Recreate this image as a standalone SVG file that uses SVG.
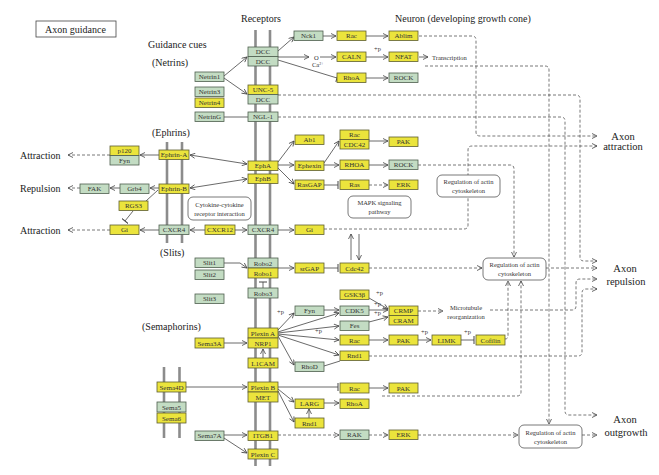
<svg xmlns="http://www.w3.org/2000/svg" width="659" height="475" viewBox="0 0 659 475">
<style>
.y{fill:#ebe43c;stroke:#5e5e30;stroke-width:0.8}
.g{fill:#c3dcc3;stroke:#4e5e4e;stroke-width:0.8}
.t{font-family:"Liberation Serif","DejaVu Serif",serif;font-size:7px;fill:#333;text-anchor:middle}
.s{font-family:"Liberation Serif","DejaVu Serif",serif;font-size:10px;fill:#222}
.b{font-family:"Liberation Serif","DejaVu Serif",serif;font-size:10.5px;fill:#222;text-anchor:middle}
.p{font-family:"Liberation Serif","DejaVu Serif",serif;font-size:6.5px;fill:#333}
.bar{stroke:#8c8c8c;stroke-width:2.6}
.c{stroke:#444;stroke-width:0.8;fill:none}
.d{stroke:#555;stroke-width:0.8;stroke-dasharray:3 2;fill:none}
.r{fill:#fff;stroke:#555;stroke-width:0.8}
</style>
<defs>
<marker id="a" viewBox="0 0 6 6" refX="5.5" refY="3" markerWidth="6" markerHeight="6" markerUnits="userSpaceOnUse" orient="auto-start-reverse"><path d="M0.5,0.5 L5.5,3 L0.5,5.5" fill="none" stroke="#444" stroke-width="0.8"/></marker>
<marker id="i" viewBox="0 0 2 8" refX="1" refY="4" markerWidth="2" markerHeight="8" markerUnits="userSpaceOnUse" orient="auto"><path d="M1,0 V8" stroke="#444" stroke-width="1"/></marker>
</defs>
<rect width="659" height="475" fill="#fff"/>

<g id="labels">
<rect x="36" y="21" width="80" height="16" fill="#fff" stroke="#444" stroke-width="0.8"/>
<text class="s" x="45" y="32.5">Axon guidance</text>
<text class="s" x="148" y="48">Guidance cues</text>
<text class="s" x="152" y="66">(Netrins)</text>
<text class="s" x="241" y="22">Receptors</text>
<text class="s" x="395" y="22">Neuron (developing growth cone)</text>
<text class="s" x="152" y="136">(Ephrins)</text>
<text class="s" x="160" y="256">(Slits)</text>
<text class="s" x="142" y="330">(Semaphorins)</text>
<text class="s" x="20" y="158.5">Attraction</text>
<text class="s" x="20" y="191.5">Repulsion</text>
<text class="s" x="20" y="233.5">Attraction</text>
<text class="b" x="623" y="139.5">Axon</text>
<text class="b" x="623" y="149.5">attraction</text>
<text class="b" x="625" y="272">Axon</text>
<text class="b" x="626" y="285">repulsion</text>
<text class="b" x="625" y="423">Axon</text>
<text class="b" x="626" y="436">outgrowth</text>
<text class="p" x="432" y="59.5">Transcription</text>
<text class="p" x="466" y="309.5" text-anchor="middle">Microtubule</text>
<text class="p" x="466" y="318.5" text-anchor="middle">reorganization</text>
<text class="p" x="314" y="60">O</text>
<text class="p" x="312" y="67" font-size="5.5">Ca<tspan font-size="4" dy="-2">2+</tspan></text>
<text class="p" x="374" y="51">+p</text>
<text class="p" x="277" y="314">+p</text>
<text class="p" x="376" y="295">+p</text>
<text class="p" x="374" y="306">+p</text>
<text class="p" x="374" y="315">+p</text>
<text class="p" x="315" y="333">+p</text>
<text class="p" x="421" y="334">+p</text>
<text class="p" x="464" y="334">+p</text>
</g>

<g id="membranes">
<line class="bar" x1="255.5" y1="30" x2="255.5" y2="466"/>
<line class="bar" x1="270" y1="30" x2="270" y2="466"/>
<line class="bar" x1="167" y1="142" x2="167" y2="243"/>
<line class="bar" x1="182" y1="142" x2="182" y2="243"/>
<line class="bar" x1="164" y1="367" x2="164" y2="438"/>
<line class="bar" x1="179.5" y1="367" x2="179.5" y2="438"/>
</g>

<g id="connectors">
<path class="d" d="M419,36 H472 Q476,36 476,40 V132 Q476,136 480,136 H597" marker-end="url(#a)"/>
<path class="d" d="M425,66 H545 Q549,66 549,70 V424" marker-end="url(#a)"/>
<path class="d" d="M278,95 H576 Q580,95 580,99 V257 Q580,261 584,261 H597" marker-end="url(#a)"/>
<path class="d" d="M278,117 H561 Q565,117 565,121 V411 Q565,415 569,415 H597" marker-end="url(#a)"/>
<path class="d" d="M418,165 H510 Q514,165 514,169 V257" marker-end="url(#a)"/>
<path class="d" d="M324,229 H464 Q468,229 468,225 V150 Q468,146 472,146 H597" marker-end="url(#a)"/>
<path class="d" d="M369,185 H388" marker-end="url(#a)"/>
<path class="d" d="M369,268 H482" marker-end="url(#a)"/>
<path class="d" d="M546,268 H597" marker-end="url(#a)"/>
<path class="d" d="M418,311 H443" marker-end="url(#a)"/>
<path class="d" d="M490,310 H572 Q576,310 576,306 V283 Q576,279 580,279 H597" marker-end="url(#a)"/>
<path class="d" d="M369,356 H578 Q582,356 582,352 V293 Q582,289 586,289 H597" marker-end="url(#a)"/>
<path class="d" d="M382,396 H517 Q521,396 521,392 V281" marker-end="url(#a)"/>
<path class="d" d="M505,339 Q508,339 508,336 V281" marker-end="url(#a)"/>
<path class="d" d="M278,435 H339" marker-end="url(#a)"/>
<path class="d" d="M369,435 H388" marker-end="url(#a)"/>
<path class="d" d="M418,435 H518" marker-end="url(#a)"/>
<path class="d" d="M582,435 H597" marker-end="url(#a)"/>
<path class="d" d="M110,155 H68" marker-end="url(#a)"/>
<path class="d" d="M80,188 H68" marker-end="url(#a)"/>
<path class="d" d="M110,230 H68" marker-end="url(#a)"/>

<path class="c" d="M224,76 L247,57" marker-end="url(#a)"/>
<path class="c" d="M224,78 L247,94" marker-end="url(#a)"/>
<path class="c" d="M224,117 H248"/>
<path class="c" d="M278,51 L294,37" marker-end="url(#a)"/>
<path class="c" d="M278,57 H309" marker-end="url(#a)"/>
<path class="c" d="M320,57 H336" marker-end="url(#a)"/>
<path class="c" d="M278,60 L337,78" marker-end="url(#i)"/>
<path class="c" d="M323,36 H336" marker-end="url(#a)"/>
<path class="c" d="M366,36 H388" marker-end="url(#a)"/>
<path class="c" d="M366,57 H388" marker-end="url(#a)"/>
<path class="c" d="M366,78 H388" marker-end="url(#a)"/>
<path class="c" d="M419,57 H428" marker-end="url(#a)"/>
<path class="c" d="M190,155 L247,164" marker-start="url(#a)" marker-end="url(#a)"/>
<path class="c" d="M190,188 L247,179" marker-start="url(#a)" marker-end="url(#a)"/>
<path class="c" d="M159,155 H140" marker-end="url(#a)"/>
<path class="c" d="M159,188 H150" marker-end="url(#a)"/>
<path class="c" d="M120,188 H110" marker-end="url(#a)"/>
<path class="c" d="M158,190 L146,201"/>
<path class="c" d="M133,211 L125,221" marker-end="url(#i)"/>
<path class="c" d="M159,230 H140" marker-end="url(#a)"/>
<path class="c" d="M205,230 H190" marker-end="url(#a)"/>
<path class="c" d="M235,230 H247" marker-end="url(#a)"/>
<path class="c" d="M278,230 H294" marker-end="url(#a)"/>
<path class="c" d="M278,162 L294,141" marker-end="url(#a)"/>
<path class="c" d="M278,165 H294" marker-end="url(#a)"/>
<path class="c" d="M278,168 L294,184" marker-end="url(#a)"/>
<path class="c" d="M324,163 L339,141" marker-end="url(#a)"/>
<path class="c" d="M369,141 H388" marker-end="url(#a)"/>
<path class="c" d="M324,165 H339" marker-end="url(#a)"/>
<path class="c" d="M369,165 H388" marker-end="url(#a)"/>
<path class="c" d="M324,185 H338" marker-end="url(#i)"/>
<path class="c" d="M351,260 V234" marker-end="url(#a)"/>
<path class="c" d="M359,234 V260" marker-end="url(#a)"/>
<path class="c" d="M224,263 H240 L247,268" marker-end="url(#a)"/>
<path class="c" d="M278,268 H294" marker-end="url(#a)"/>
<path class="c" d="M324,268 H338" marker-end="url(#i)"/>
<path class="c" d="M263,288 V282" marker-end="url(#i)"/>
<path class="c" d="M224,343 H247" marker-end="url(#a)"/>
<path class="c" d="M263,358 V349" marker-end="url(#a)"/>
<path class="c" d="M278,330 L294,313" marker-end="url(#a)"/>
<path class="c" d="M278,332 L339,313" marker-end="url(#a)"/>
<path class="c" d="M278,333 L339,326" marker-end="url(#a)"/>
<path class="c" d="M278,334 L339,340" marker-end="url(#a)"/>
<path class="c" d="M278,335 L339,355" marker-end="url(#a)"/>
<path class="c" d="M278,336 L294,365" marker-end="url(#a)"/>
<path class="c" d="M324,366 L340,361"/>
<path class="c" d="M324,310 H339" marker-end="url(#a)"/>
<path class="c" d="M369,298 L388,309" marker-end="url(#a)"/>
<path class="c" d="M369,310 H388" marker-end="url(#a)"/>
<path class="c" d="M369,322 L388,317" marker-end="url(#a)"/>
<path class="c" d="M369,340 H388" marker-end="url(#a)"/>
<path class="c" d="M418,340 H431" marker-end="url(#a)"/>
<path class="c" d="M461,340 H474" marker-end="url(#i)"/>
<path class="c" d="M186,387 H247" marker-end="url(#a)"/>
<path class="c" d="M278,387 H338" marker-end="url(#i)"/>
<path class="c" d="M369,388 H388" marker-end="url(#a)"/>
<path class="c" d="M278,389 L294,402" marker-end="url(#a)"/>
<path class="c" d="M278,391 L294,422" marker-end="url(#a)"/>
<path class="c" d="M309,418 V409" marker-end="url(#a)"/>
<path class="c" d="M324,403 H339" marker-end="url(#a)"/>
<path class="c" d="M224,435 H247" marker-end="url(#a)"/>
<path class="c" d="M224,438 L247,453" marker-end="url(#a)"/>
</g>

<g id="boxes">
<g id="cytokine"><rect class="r" x="188" y="197" width="63" height="23" rx="5"/><text class="p" x="219.5" y="206.5" text-anchor="middle">Cytokine-cytokine</text><text class="p" x="219.5" y="215.5" text-anchor="middle">receptor interaction</text></g>
<g id="mapk"><rect class="r" x="348" y="196" width="63" height="22" rx="5"/><text class="p" x="379.5" y="205" text-anchor="middle">MAPK signaling</text><text class="p" x="379.5" y="214" text-anchor="middle">pathway</text></g>
<g id="actin1"><rect class="r" x="437" y="175" width="63" height="22" rx="5"/><text class="p" x="468.5" y="184" text-anchor="middle">Regulation of actin</text><text class="p" x="468.5" y="193" text-anchor="middle">cytoskeleton</text></g>
<g id="actin2"><rect class="r" x="483" y="258" width="63" height="22" rx="5"/><text class="p" x="514.5" y="267" text-anchor="middle">Regulation of actin</text><text class="p" x="514.5" y="276" text-anchor="middle">cytoskeleton</text></g>
<g id="actin3"><rect class="r" x="519" y="425" width="63" height="23" rx="5"/><text class="p" x="550.5" y="434.5" text-anchor="middle">Regulation of actin</text><text class="p" x="550.5" y="443.5" text-anchor="middle">cytoskeleton</text></g>
</g>

<g id="nodes">
<g id="netrin1"><rect class="g" x="195" y="72" width="29" height="9.5"/><text class="t" x="209.5" y="79.2">Netrin1</text></g>
<g id="netrin3"><rect class="g" x="195" y="87" width="29" height="9.5"/><text class="t" x="209.5" y="94.2">Netrin3</text></g>
<g id="netrin4"><rect class="y" x="195" y="98" width="29" height="9.5"/><text class="t" x="209.5" y="105.2">Netrin4</text></g>
<g id="netring"><rect class="g" x="195" y="112" width="29" height="9.5"/><text class="t" x="209.5" y="119.2">NetrinG</text></g>
<g id="dcc1"><rect class="g" x="248" y="47" width="30" height="9.5"/><text class="t" x="263" y="54.2">DCC</text></g>
<g id="dcc2"><rect class="g" x="248" y="56.5" width="30" height="9.5"/><text class="t" x="263" y="63.7">DCC</text></g>
<g id="unc5"><rect class="y" x="248" y="85" width="30" height="9.5"/><text class="t" x="263" y="92.2">UNC-5</text></g>
<g id="dcc3"><rect class="g" x="248" y="94.5" width="30" height="9.5"/><text class="t" x="263" y="101.7">DCC</text></g>
<g id="ngl1"><rect class="g" x="248" y="112" width="30" height="9.5"/><text class="t" x="263" y="119.2">NGL-1</text></g>
<g id="nck1"><rect class="g" x="294" y="31" width="29" height="9.5"/><text class="t" x="308.5" y="38.2">Nck1</text></g>
<g id="rac1"><rect class="y" x="337" y="31" width="29" height="9.5"/><text class="t" x="351.5" y="38.2">Rac</text></g>
<g id="ablim"><rect class="y" x="389" y="31" width="29" height="9.5"/><text class="t" x="403.5" y="38.2">Ablim</text></g>
<g id="caln"><rect class="y" x="337" y="52" width="29" height="9.5"/><text class="t" x="351.5" y="59.2">CALN</text></g>
<g id="nfat"><rect class="y" x="389" y="52" width="29" height="9.5"/><text class="t" x="403.5" y="59.2">NFAT</text></g>
<g id="rhoa1"><rect class="y" x="337" y="73" width="29" height="9.5"/><text class="t" x="351.5" y="80.2">RhoA</text></g>
<g id="rock1"><rect class="g" x="389" y="73" width="29" height="9.5"/><text class="t" x="403.5" y="80.2">ROCK</text></g>

<g id="ephrinA"><rect class="y" x="159" y="150" width="30" height="9.5"/><text class="t" x="174" y="157.2">Ephrin-A</text></g>
<g id="ephrinB"><rect class="y" x="159" y="184" width="30" height="9.5"/><text class="t" x="174" y="191.2">Ephrin-B</text></g>
<g id="cxcr4a"><rect class="g" x="159" y="225" width="30" height="9.5"/><text class="t" x="174" y="232.2">CXCR4</text></g>
<g id="p120"><rect class="y" x="110" y="146" width="29" height="9.5"/><text class="t" x="124.5" y="153.2">p120</text></g>
<g id="fyn1"><rect class="g" x="110" y="155.5" width="29" height="9.5"/><text class="t" x="124.5" y="162.7">Fyn</text></g>
<g id="fak"><rect class="g" x="80" y="184" width="29" height="9.5"/><text class="t" x="94.5" y="191.2">FAK</text></g>
<g id="grb4"><rect class="g" x="120" y="184" width="29" height="9.5"/><text class="t" x="134.5" y="191.2">Grb4</text></g>
<g id="rgs3"><rect class="y" x="119" y="201" width="29" height="9.5"/><text class="t" x="133.5" y="208.2">RGS3</text></g>
<g id="gi1"><rect class="y" x="110" y="225" width="29" height="9.5"/><text class="t" x="124.5" y="232.2">Gi</text></g>
<g id="cxcr12"><rect class="y" x="205" y="225" width="30" height="9.5"/><text class="t" x="220" y="232.2">CXCR12</text></g>
<g id="epha"><rect class="y" x="248" y="161" width="30" height="9.5"/><text class="t" x="263" y="168.2">EphA</text></g>
<g id="ephb"><rect class="y" x="248" y="174" width="30" height="9.5"/><text class="t" x="263" y="181.2">EphB</text></g>
<g id="cxcr4b"><rect class="g" x="248" y="225" width="30" height="9.5"/><text class="t" x="263" y="232.2">CXCR4</text></g>
<g id="ab1"><rect class="y" x="295" y="135" width="29" height="9.5"/><text class="t" x="309.5" y="142.2">Ab1</text></g>
<g id="ephexin"><rect class="y" x="295" y="161" width="29" height="9.5"/><text class="t" x="309.5" y="168.2">Ephexin</text></g>
<g id="rasgap"><rect class="y" x="295" y="180" width="29" height="9.5"/><text class="t" x="309.5" y="187.2">RasGAP</text></g>
<g id="gi2"><rect class="y" x="295" y="225" width="29" height="9.5"/><text class="t" x="309.5" y="232.2">Gi</text></g>
<g id="rac2"><rect class="y" x="340" y="130" width="29" height="9.5"/><text class="t" x="354.5" y="137.2">Rac</text></g>
<g id="cdc42a"><rect class="y" x="340" y="139.5" width="29" height="9.5"/><text class="t" x="354.5" y="146.7">CDC42</text></g>
<g id="pak1"><rect class="y" x="389" y="137" width="29" height="9.5"/><text class="t" x="403.5" y="144.2">PAK</text></g>
<g id="rhoa2"><rect class="y" x="340" y="160" width="29" height="9.5"/><text class="t" x="354.5" y="167.2">RHOA</text></g>
<g id="rock2"><rect class="g" x="389" y="160" width="29" height="9.5"/><text class="t" x="403.5" y="167.2">ROCK</text></g>
<g id="ras"><rect class="y" x="340" y="180" width="29" height="9.5"/><text class="t" x="354.5" y="187.2">Ras</text></g>
<g id="erk1"><rect class="y" x="389" y="180" width="29" height="9.5"/><text class="t" x="403.5" y="187.2">ERK</text></g>

<g id="slit1"><rect class="g" x="195" y="258" width="29" height="9.5"/><text class="t" x="209.5" y="265.2">Slit1</text></g>
<g id="slit2"><rect class="g" x="195" y="270" width="29" height="9.5"/><text class="t" x="209.5" y="277.2">Slit2</text></g>
<g id="slit3"><rect class="g" x="195" y="294" width="29" height="9.5"/><text class="t" x="209.5" y="301.2">Slit3</text></g>
<g id="robo2"><rect class="g" x="248" y="258" width="30" height="10"/><text class="t" x="263" y="265.5">Robo2</text></g>
<g id="robo1"><rect class="y" x="248" y="268" width="30" height="10"/><text class="t" x="263" y="275.5">Robo1</text></g>
<g id="robo3"><rect class="g" x="248" y="288" width="30" height="10"/><text class="t" x="263" y="295.5">Robo3</text></g>
<g id="srgap"><rect class="y" x="295" y="263" width="29" height="10"/><text class="t" x="309.5" y="270.5">srGAP</text></g>
<g id="cdc42b"><rect class="y" x="340" y="263" width="29" height="10"/><text class="t" x="354.5" y="270.5">Cdc42</text></g>

<g id="fyn2"><rect class="g" x="295" y="306" width="29" height="9.5"/><text class="t" x="309.5" y="313.2">Fyn</text></g>
<g id="gsk3b"><rect class="y" x="340" y="290" width="29" height="9.5"/><text class="t" x="354.5" y="297.2">GSK3β</text></g>
<g id="cdk5"><rect class="g" x="340" y="306" width="29" height="9.5"/><text class="t" x="354.5" y="313.2">CDK5</text></g>
<g id="fes"><rect class="g" x="340" y="321" width="29" height="9.5"/><text class="t" x="354.5" y="328.2">Fes</text></g>
<g id="crmp"><rect class="y" x="389" y="306" width="29" height="9.5"/><text class="t" x="403.5" y="313.2">CRMP</text></g>
<g id="cram"><rect class="y" x="389" y="315.5" width="29" height="9.5"/><text class="t" x="403.5" y="322.7">CRAM</text></g>
<g id="plexinA"><rect class="y" x="248" y="328" width="30" height="10"/><text class="t" x="263" y="335.5">Plexin A</text></g>
<g id="nrp1"><rect class="y" x="248" y="338" width="30" height="10"/><text class="t" x="263" y="345.5">NRP1</text></g>
<g id="l1cam"><rect class="y" x="248" y="358" width="30" height="10"/><text class="t" x="263" y="365.5">L1CAM</text></g>
<g id="sema3a"><rect class="y" x="195" y="338" width="29" height="10"/><text class="t" x="209.5" y="345.5">Sema3A</text></g>
<g id="rac3"><rect class="y" x="340" y="335" width="29" height="10"/><text class="t" x="354.5" y="342.5">Rac</text></g>
<g id="pak2"><rect class="y" x="389" y="335" width="29" height="10"/><text class="t" x="403.5" y="342.5">PAK</text></g>
<g id="limk"><rect class="y" x="432" y="335" width="29" height="10"/><text class="t" x="446.5" y="342.5">LIMK</text></g>
<g id="cofilin"><rect class="y" x="476" y="335" width="29" height="10"/><text class="t" x="490.5" y="342.5">Cofilin</text></g>
<g id="rnd1a"><rect class="y" x="340" y="351" width="29" height="9.5"/><text class="t" x="354.5" y="358.2">Rnd1</text></g>
<g id="rhod"><rect class="g" x="295" y="362" width="29" height="9.5"/><text class="t" x="309.5" y="369.2">RhoD</text></g>

<g id="sema4d"><rect class="y" x="157" y="382" width="29" height="10"/><text class="t" x="171.5" y="389.5">Sema4D</text></g>
<g id="sema5"><rect class="g" x="157" y="402" width="29" height="10"/><text class="t" x="171.5" y="409.5">Sema5</text></g>
<g id="sema6"><rect class="y" x="157" y="413" width="29" height="10"/><text class="t" x="171.5" y="420.5">Sema6</text></g>
<g id="plexinB"><rect class="y" x="248" y="382" width="30" height="10"/><text class="t" x="263" y="389.5">Plexin B</text></g>
<g id="met"><rect class="y" x="248" y="392" width="30" height="10"/><text class="t" x="263" y="399.5">MET</text></g>
<g id="rac4"><rect class="y" x="340" y="383" width="29" height="10"/><text class="t" x="354.5" y="390.5">Rac</text></g>
<g id="pak3"><rect class="y" x="389" y="383" width="29" height="10"/><text class="t" x="403.5" y="390.5">PAK</text></g>
<g id="larg"><rect class="y" x="295" y="399" width="29" height="9.5"/><text class="t" x="309.5" y="406.2">LARG</text></g>
<g id="rhoa3"><rect class="y" x="340" y="399" width="29" height="9.5"/><text class="t" x="354.5" y="406.2">RhoA</text></g>
<g id="rnd1b"><rect class="y" x="295" y="418" width="29" height="10"/><text class="t" x="309.5" y="425.5">Rnd1</text></g>
<g id="sema7a"><rect class="g" x="195" y="431" width="29" height="9.5"/><text class="t" x="209.5" y="438.2">Sema7A</text></g>
<g id="itgb1"><rect class="y" x="248" y="431" width="30" height="9.5"/><text class="t" x="263" y="438.2">ITGB1</text></g>
<g id="plexinC"><rect class="y" x="248" y="449" width="30" height="10"/><text class="t" x="263" y="456.5">Plexin C</text></g>
<g id="rak"><rect class="g" x="340" y="430" width="29" height="9.5"/><text class="t" x="354.5" y="437.2">RAK</text></g>
<g id="erk2"><rect class="y" x="389" y="430" width="29" height="9.5"/><text class="t" x="403.5" y="437.2">ERK</text></g>
</g>
</svg>
